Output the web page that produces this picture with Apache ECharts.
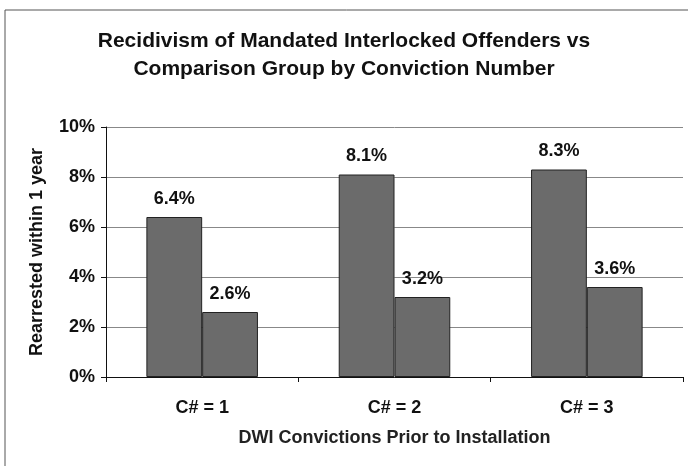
<!DOCTYPE html>
<html>
<head>
<meta charset="utf-8">
<script src="https://cdn.jsdelivr.net/npm/echarts@6/dist/echarts.min.js"></script>
<style>
html,body{margin:0;padding:0;background:#fff;}
#chart{width:688px;height:466px;}
</style>
</head>
<body>
<div id="chart"></div>
<script>
const categories = ['C# = 1', 'C# = 2', 'C# = 3'];
const interlocked = [6.4, 8.1, 8.3];
const comparison = [2.6, 3.2, 3.6];
const yTicks = [0, 2, 4, 6, 8, 10];

const chart = echarts.init(document.getElementById('chart'));
const font = 'Liberation Sans, Arial, sans-serif';
const barStyle = { color: '#6b6b6b', borderColor: '#222', borderWidth: 1 };
const labelStyle = {
  show: true, position: 'top', distance: 9,
  formatter: p => p.value.toFixed(1) + '%',
  fontFamily: font, fontWeight: 'bold', fontSize: 18, color: '#111'
};
chart.setOption({
  backgroundColor: '#fff',
  animation: false,
  title: {
    text: 'Recidivism of Mandated Interlocked Offenders vs\nComparison Group by Conviction Number',
    left: 'center', top: 22,
    textStyle: { fontFamily: font, fontWeight: 'bold', fontSize: 21, lineHeight: 28, color: '#111' }
  },
  graphic: [
    { type: 'polyline', shape: { points: [[5, 466], [5, 10], [688, 10]] }, style: { stroke: '#555', lineWidth: 1, fill: null } }
  ],
  grid: { left: 106, right: 5, top: 127, bottom: 89, containLabel: false },
  xAxis: {
    type: 'category', data: categories,
    name: 'DWI Convictions Prior to Installation', nameLocation: 'middle', nameGap: 52,
    nameTextStyle: { fontFamily: font, fontWeight: 'bold', fontSize: 18, color: '#222' },
    axisLine: { lineStyle: { color: '#111' } },
    axisTick: { show: true, alignWithLabel: false, length: 5, lineStyle: { color: '#111' } },
    axisLabel: { fontFamily: font, fontWeight: 'bold', fontSize: 18, color: '#111', margin: 22 }
  },
  yAxis: {
    type: 'value', min: yTicks[0], max: yTicks[yTicks.length - 1], interval: 2,
    name: 'Rearrested within 1 year', nameLocation: 'middle', nameGap: 60, nameRotate: 90,
    nameTextStyle: { fontFamily: font, fontWeight: 'bold', fontSize: 18, color: '#111' },
    axisLine: { show: true, lineStyle: { color: '#111' } },
    axisTick: { show: true, length: 5, lineStyle: { color: '#111' } },
    axisLabel: { formatter: v => v + '%', fontFamily: font, fontWeight: 'bold', fontSize: 18, color: '#111', margin: 11 },
    splitLine: { lineStyle: { color: '#888', width: 1 } }
  },
  series: [
    { name: 'Interlocked', type: 'bar', data: interlocked, itemStyle: barStyle, label: labelStyle, barGap: '0%', barCategoryGap: '42%' },
    { name: 'Comparison', type: 'bar', data: comparison, itemStyle: barStyle, label: labelStyle, barGap: '0%', barCategoryGap: '42%' }
  ]
});
</script>
</body>
</html>
